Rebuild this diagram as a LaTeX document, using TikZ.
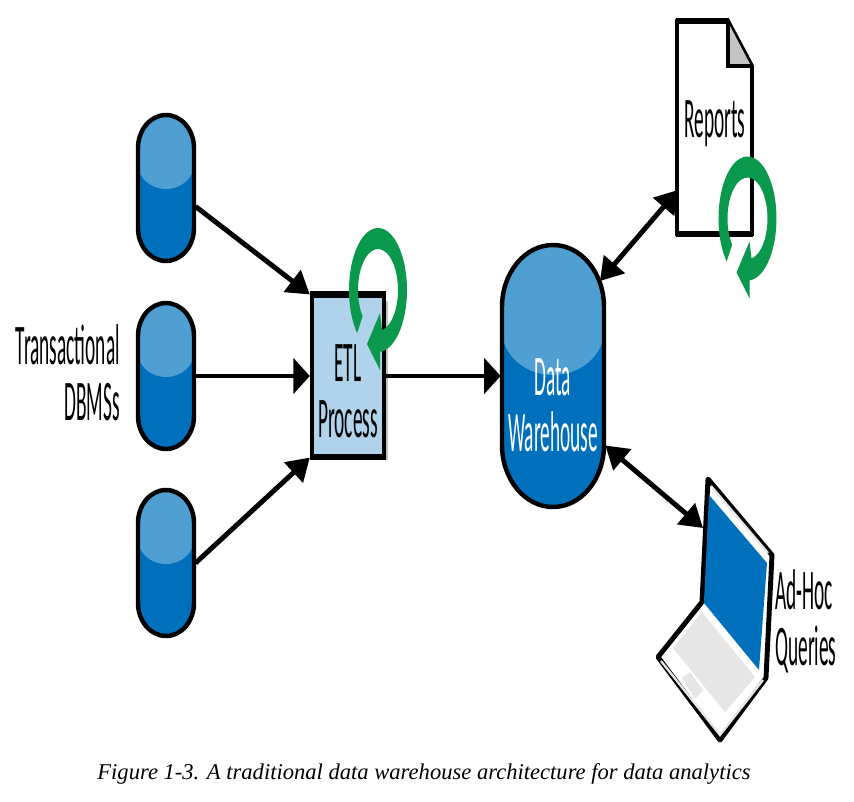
\documentclass[tikz,border=0pt]{standalone}
\usepackage{fontspec}
\setmainfont{Carlito}
\newfontfamily\captionfont{Liberation Serif}
\usetikzlibrary{arrows.meta,shadows}
\definecolor{dbblue}{HTML}{0070BC}
\definecolor{dblight}{HTML}{4F9FD2}
\definecolor{etlblue}{HTML}{B0D2EA}
\definecolor{loopgreen}{HTML}{0A984C}
\definecolor{foldgray}{HTML}{C4C4C4}
\definecolor{keygray}{HTML}{E6E6E6}
\newcommand{\lbl}[1]{\scalebox{0.337}[1]{#1}}
% node name, half width, half height, corner height, join, dip
\newcommand{\cyl}[6]{
  \begin{scope}[shift={(#1)}]
    \fill[dbblue] (-#2,#3-#4) arc[start angle=180, end angle=0, x radius=#2, y radius=#4] -- (#2,-#3+#4)
      arc[start angle=0, end angle=-180, x radius=#2, y radius=#4] -- cycle;
    \fill[dblight] (-#2,#3-#4) arc[start angle=180, end angle=0, x radius=#2, y radius=#4] -- (#2,#3-#5)
      arc[start angle=0, end angle=-180, x radius=#2, y radius=#6] -- cycle;
    \draw[line width=3.8pt] (-#2,#3-#4) arc[start angle=180, end angle=0, x radius=#2, y radius=#4] -- (#2,-#3+#4)
      arc[start angle=0, end angle=-180, x radius=#2, y radius=#4] -- cycle;
  \end{scope}
}
\tikzset{
  dbsmall/.style={rectangle, minimum width=50pt, minimum height=125pt, inner sep=0pt},
  dbbig/.style={rectangle, minimum width=89pt, minimum height=226pt, inner sep=0pt},
  etlbox/.style={rectangle, draw=black, line width=3.2pt, fill=etlblue, minimum width=62pt, minimum height=136pt,
    inner sep=0pt, drop shadow={shadow xshift=3pt, shadow yshift=-4pt, opacity=0.5}},
  txt/.style={inner sep=0pt, font=\fontsize{49}{48}\selectfont},
  flow/.style={line width=4.2pt, -{Triangle[length=14pt,width=30pt]}},
  slant/.style={line width=4.2pt, -{Triangle[length=19pt,width=23pt]}},
  slantboth/.style={line width=4.2pt, {Triangle[length=19pt,width=23pt]}-{Triangle[length=19pt,width=23pt]}},
  refresh/.pic={
    \fill[loopgreen] (224:29 and 62) arc[start angle=224, end angle=-86, x radius=29, y radius=62]
      -- (2,-60) -- (2,-80) -- (-11,-54) -- (2,-23) -- (4,-40) -- (-70:20 and 41)
      arc[start angle=-70, end angle=220, x radius=20, y radius=41] -- cycle;
  }
}
\begin{document}
\begin{tikzpicture}[x=0.03cm, y=0.03cm]
\useasboundingbox (0,0) rectangle (854,-802);

\node[dbsmall] (src1) at (166,-188) {};
\node[dbsmall] (src2) at (166,-376) {};
\node[dbsmall] (src3) at (166,-563) {};
\cyl{src1}{28}{73}{33}{49}{25}
\cyl{src2}{28}{73}{33}{49}{25}
\cyl{src3}{28}{73}{33}{49}{25}
\node[txt, align=right, anchor=east] (srclabel) at (120,-373) {\lbl{Transactional}\\\lbl{DBMSs}};

\node[etlbox] (etl) at (348,-376) {};
\draw[line width=5.5pt] (etl.north west) -- (etl.north east);
\draw[line width=5pt] (etl.south west) -- (etl.south east);
\node[txt, align=center] (etltext) at (348,-391) {\lbl{ETL}\\\lbl{Process}};
\node[dbbig] (dw) at (553,-376) {};
\cyl{dw}{51}{131}{62}{85}{45}
\node[txt, text=white, align=center] (dwtext) at (553,-405) {\lbl{Data}\\\lbl{Warehouse}};

\draw[slant] (src1.-32) -- (etl.north west);
\draw[flow] (src2.east) -- (etl.west);
\draw[slant] (src3.east) -- (etl.south west);
\draw[flow] (etl.east) -- (dw.west);

\pic at (378,-290) {refresh};

% report page
\draw[line width=3.4pt, fill=white, line join=miter] (677,-21) -- (728,-21) -- (752,-66) -- (752,-234) -- (677,-234) -- cycle;
\fill[foldgray] (729,-24) -- (750,-64) -- (729,-64) -- cycle;
\draw[line width=3.4pt] (728,-21) -- (728,-66) -- (752,-66);
\draw[line width=5pt] (676,-21) -- (729,-21);
\draw[line width=5pt] (676,-234) -- (753,-234);
\node[txt] (reports) at (715,-124) {\lbl{Reports}};
\coordinate (reportedge) at (678,-190);
\pic at (747.5,-218.5) {refresh};

% laptop
\draw[line width=4.2pt, fill=white, line join=round] (708,-479) -- (772,-555) -- (766,-678) -- (720,-740) -- (658,-657) -- (702,-602) -- cycle;
\draw[keygray, line width=2pt] (661,-661) -- (720,-735) -- (763,-680);
\draw[keygray, line width=2pt] (711,-486) -- (768,-553);
\fill[dbblue] (709,-495) -- (767,-563) -- (759,-670) -- (704,-603) -- cycle;
\fill[keygray] (673,-648) -- (702,-612) -- (755,-677) -- (725,-712) -- cycle;
\fill[keygray] (682,-678) -- (690,-672) -- (703,-690) -- (695,-699) -- cycle;
\coordinate (laptopedge) at (703,-528);
\node[txt, align=left, anchor=west] (laptoplabel) at (775,-621) {\lbl{Ad-Hoc}\\\lbl{Queries}};

\coordinate (dwtop) at (600,-281);
\draw[slantboth] (dwtop) -- (reportedge);
\draw[slantboth] (dw.-53) -- (laptopedge);

\node[inner sep=0pt, font=\captionfont\itshape\fontsize{19.27}{19}\selectfont] (caption) at (424,-774) {Figure 1-3. A traditional data warehouse architecture for data analytics};
\end{tikzpicture}
\end{document}
